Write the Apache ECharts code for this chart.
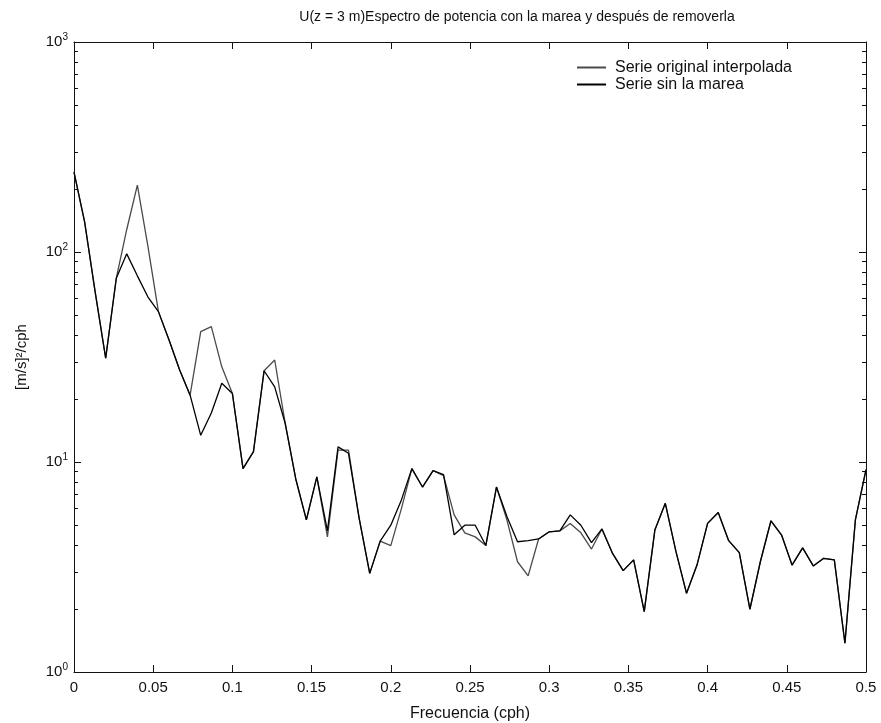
<!DOCTYPE html>
<html>
<head>
<meta charset="utf-8">
<title>Espectro de potencia</title>
<script src="https://cdn.jsdelivr.net/npm/echarts@6/dist/echarts.min.js"></script>
<style>
  html, body { margin: 0; padding: 0; background: #fff; }
  #chart { width: 881px; height: 723px; }
</style>
</head>
<body>
<div id="chart"></div>
<script>
// Frequency grid of the spectral estimate (cph)
const frequencies = [
  0, 0.0067, 0.0133, 0.02, 0.0267, 0.0333, 0.04, 0.0467, 0.0533, 0.06,
  0.0667, 0.0733, 0.08, 0.0867, 0.0933, 0.1, 0.1067, 0.1133, 0.12, 0.1267,
  0.1333, 0.14, 0.1467, 0.1533, 0.16, 0.1667, 0.1733, 0.18, 0.1867, 0.1933,
  0.2, 0.2067, 0.2133, 0.22, 0.2267, 0.2333, 0.24, 0.2467, 0.2533, 0.26,
  0.2667, 0.2733, 0.28, 0.2867, 0.2933, 0.3, 0.3067, 0.3133, 0.32, 0.3267,
  0.3333, 0.34, 0.3467, 0.3533, 0.36, 0.3667, 0.3733, 0.38, 0.3867, 0.3933,
  0.4, 0.4067, 0.4133, 0.42, 0.4267, 0.4333, 0.44, 0.4467, 0.4533, 0.46,
  0.4667, 0.4733, 0.48, 0.4867, 0.4933, 0.5
];

// Power spectrum of the interpolated series (tide included)
const serieOriginal = [
  240, 139, 65, 31.2, 75, 128, 208, 106, 52, 38.1,
  27.4, 20.8, 41.8, 44.1, 28.4, 21.2, 9.3, 11.2, 27.2, 30.6,
  15.3, 8.3, 5.3, 8.5, 4.4, 11.4, 11.4, 5.4, 2.95, 4.2,
  4.0, 6.0, 9.3, 7.6, 9.1, 8.6, 5.6, 4.6, 4.4, 4.0,
  7.6, 5.3, 3.35, 2.87, 4.3, 4.65, 4.7, 5.1, 4.6, 3.85,
  4.8, 3.67, 3.04, 3.42, 1.94, 4.74, 6.36, 3.75, 2.37, 3.23,
  5.1, 5.75, 4.22, 3.7, 1.99, 3.35, 5.25, 4.49, 3.23, 3.9,
  3.2, 3.48, 3.42, 1.37, 5.3, 9.2
];

// Power spectrum after removing the tide
const serieSinMarea = [
  240, 139, 65, 31.2, 75, 98, 77, 61, 52, 38.1,
  27.4, 20.8, 13.4, 17.1, 23.7, 21.2, 9.3, 11.2, 27.2, 22.8,
  15.3, 8.3, 5.3, 8.5, 4.7, 11.8, 11.0, 5.4, 2.95, 4.2,
  5.0, 6.6, 9.3, 7.6, 9.1, 8.7, 4.5, 5.0, 5.0, 4.0,
  7.6, 5.5, 4.17, 4.22, 4.3, 4.65, 4.7, 5.6, 5.0, 4.13,
  4.8, 3.67, 3.04, 3.42, 1.94, 4.74, 6.36, 3.75, 2.37, 3.23,
  5.1, 5.75, 4.22, 3.7, 1.99, 3.35, 5.25, 4.49, 3.23, 3.9,
  3.2, 3.48, 3.42, 1.37, 5.3, 9.2
];

// Frequency tick positions (cph)
const xTickValues = [0, 0.05, 0.1, 0.15, 0.2, 0.25, 0.3, 0.35, 0.4, 0.45, 0.5];

const seriesNames = ['Serie original interpolada', 'Serie sin la marea'];
const titleText = 'U(z = 3 m)Espectro de potencia con la marea y después de removerla';
const xAxisTitle = 'Frecuencia (cph)';
const yAxisTitle = '[m/s]²/cph';

// Decade ticks and minor log ticks (2..9 in each decade), in log10 units
const decadeTickLog = [0, 1, 2, 3];
const minorTickMultipliers = [2, 3, 4, 5, 6, 7, 8, 9];
const minorTickLog = [];
[0, 1, 2].forEach(d => minorTickMultipliers.forEach(m => minorTickLog.push(d + Math.log10(m))));

const FONT = 'Liberation Sans';
const INK = '#111';
// Same frame for every grid; outer-bounds fitting is off so all frames coincide
const plotBox = { left: 74, right: 15, top: 42, bottom: 51, containLabel: false, outerBoundsMode: 'none' };

function pairs(ys) {
  return frequencies.map((f, i) => [f, ys[i]]);
}

const chart = echarts.init(document.getElementById('chart'), null, { renderer: 'canvas' });

const tickLine = { color: INK, width: 1 };

// Overlay axes that only draw tick marks inside the frame
function tickAxisX(grid, position, len) {
  return {
    gridIndex: grid, position, type: 'value', min: 0, max: 0.5,
    splitLine: { show: false },
    axisLine: { show: false, onZero: false },
    axisLabel: { show: false },
    axisTick: { show: true, inside: true, length: len, lineStyle: tickLine, customValues: xTickValues }
  };
}
function tickAxisY(grid, position, len, values) {
  return {
    gridIndex: grid, position, type: 'value', min: 0, max: 3,
    splitLine: { show: false },
    axisLine: { show: false, onZero: false },
    axisLabel: { show: false },
    axisTick: { show: true, inside: true, length: len, lineStyle: tickLine, customValues: values }
  };
}

chart.setOption({
  backgroundColor: '#fff',
  animation: false,
  title: {
    text: titleText, left: 512, top: 5, textAlign: 'center',
    textStyle: { fontFamily: FONT, fontSize: 14, fontWeight: 'normal', color: INK }
  },
  legend: {
    orient: 'vertical', left: 572, top: 54, itemGap: 0,
    itemWidth: 29, itemHeight: 2, icon: 'rect',
    textStyle: { fontFamily: FONT, fontSize: 16, lineHeight: 17, color: INK, padding: [0, 0, 0, 4] },
    data: seriesNames
  },
  grid: [plotBox, Object.assign({}, plotBox), Object.assign({}, plotBox)],
  xAxis: [
    {
      gridIndex: 0, position: 'bottom', type: 'value', min: 0, max: 0.5, interval: 0.05,
      splitLine: { show: false },
      axisLine: { show: true, onZero: false, lineStyle: tickLine },
      axisTick: { show: false },
      name: xAxisTitle, nameLocation: 'middle', nameGap: 34,
      nameTextStyle: { fontFamily: FONT, fontSize: 16, color: INK },
      axisLabel: {
        fontFamily: FONT, fontSize: 15, color: INK, margin: 8,
        formatter: v => (Math.abs(v) < 1e-9 ? '0' : String(+v.toFixed(2)))
      }
    },
    {
      gridIndex: 0, position: 'top', type: 'value', min: 0, max: 0.5, interval: 0.05,
      splitLine: { show: false },
      axisLine: { show: true, onZero: false, lineStyle: tickLine },
      axisTick: { show: false }, axisLabel: { show: false }
    },
    tickAxisX(1, 'bottom', 7),
    tickAxisX(1, 'top', 7),
    { gridIndex: 2, type: 'value', min: 0, max: 0.5, show: false }
  ],
  yAxis: [
    {
      gridIndex: 0, position: 'left', type: 'log', min: 1, max: 1000, logBase: 10,
      splitLine: { show: false },
      axisLine: { show: true, onZero: false, lineStyle: tickLine },
      axisTick: { show: false },
      name: yAxisTitle, nameLocation: 'middle', nameGap: 45, nameRotate: 90,
      nameTextStyle: { fontFamily: FONT, fontSize: 15, color: INK },
      axisLabel: {
        margin: 6, color: INK,
        formatter: v => '{b|10}{s|' + Math.round(Math.log10(v)) + '}',
        rich: {
          b: { fontFamily: FONT, fontSize: 15, color: INK },
          s: { fontFamily: FONT, fontSize: 10, color: INK, padding: [0, 0, 10, 0] }
        }
      }
    },
    {
      gridIndex: 0, position: 'right', type: 'log', min: 1, max: 1000, logBase: 10,
      splitLine: { show: false },
      axisLine: { show: true, onZero: false, lineStyle: tickLine },
      axisTick: { show: false }, axisLabel: { show: false }
    },
    tickAxisY(1, 'left', 4, minorTickLog),
    tickAxisY(1, 'right', 4, minorTickLog),
    tickAxisY(2, 'left', 7, decadeTickLog),
    tickAxisY(2, 'right', 7, decadeTickLog)
  ],
  series: [
    {
      name: seriesNames[0], type: 'line', xAxisIndex: 0, yAxisIndex: 0,
      data: pairs(serieOriginal), symbol: 'none', smooth: false,
      lineStyle: { color: '#4a4a4a', width: 1.3 }, itemStyle: { color: '#4a4a4a' },
      z: 2
    },
    {
      name: seriesNames[1], type: 'line', xAxisIndex: 0, yAxisIndex: 0,
      data: pairs(serieSinMarea), symbol: 'none', smooth: false,
      lineStyle: { color: '#000', width: 1.3 }, itemStyle: { color: '#000' },
      z: 3
    }
  ]
});
</script>
</body>
</html>
